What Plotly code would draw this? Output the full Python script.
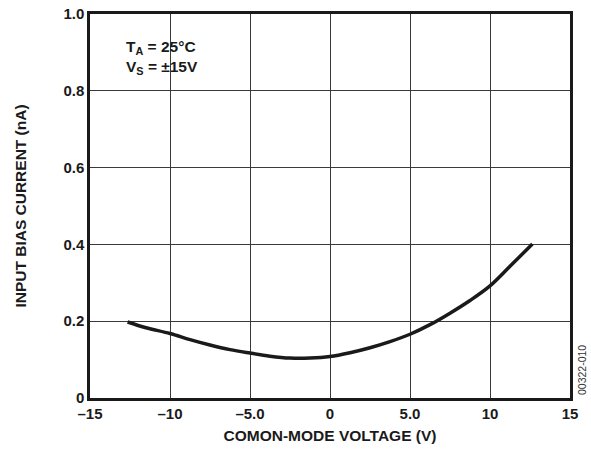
import plotly.graph_objects as go

# Data
cm_voltage = [-12.65, -11.5, -10.0, -8.75, -7.5, -6.25, -5.0, -3.75, -2.5, -1.25, 0.0, 1.25, 2.5, 3.75, 5.0, 6.25, 7.5, 8.75, 10.0, 11.25, 12.65]
bias_current = [0.198, 0.183, 0.168, 0.152, 0.138, 0.126, 0.117, 0.109, 0.104, 0.104, 0.108, 0.118, 0.131, 0.147, 0.166, 0.191, 0.221, 0.254, 0.292, 0.343, 0.401]

x_ticks = [-15, -10, -5, 0, 5, 10, 15]
x_tick_labels = ["–15", "–10", "–5.0", "0", "5.0", "10", "15"]
y_ticks = [0, 0.2, 0.4, 0.6, 0.8, 1.0]
y_tick_labels = ["0", "0.2", "0.4", "0.6", "0.8", "1.0"]

font_family = "Liberation Sans, Arial, sans-serif"

fig = go.Figure()
fig.add_trace(go.Scatter(
    x=cm_voltage, y=bias_current, mode="lines",
    line=dict(color="#1a1a1a", width=3.5, shape="spline", smoothing=1.0),
    showlegend=False, hoverinfo="skip"))

fig.update_layout(
    width=591, height=451,
    margin=dict(l=90, r=21, t=14, b=53),
    paper_bgcolor="white", plot_bgcolor="white",
    font=dict(family=font_family, color="#1a1a1a"),
    xaxis=dict(
        range=[-15, 15], tickvals=x_ticks, ticktext=x_tick_labels,
        showgrid=True, gridcolor="#3a3a3a", gridwidth=1,
        showline=True, linecolor="#1a1a1a", linewidth=2.5, mirror=True,
        zeroline=False, ticks="", automargin=False,
        tickfont=dict(size=15, family=font_family, weight="bold"),
        title=dict(text="<b>COMON-MODE VOLTAGE (V)</b>", font=dict(size=15.5), standoff=10),
    ),
    yaxis=dict(
        range=[0, 1.0], tickvals=y_ticks, ticktext=y_tick_labels,
        showgrid=True, gridcolor="#3a3a3a", gridwidth=1,
        showline=True, linecolor="#1a1a1a", linewidth=2.5, mirror=True,
        zeroline=False, ticks="", automargin=False,
        tickfont=dict(size=15, family=font_family, weight="bold"),
        title=dict(text="<b>INPUT BIAS CURRENT (nA)</b>", font=dict(size=15.5), standoff=33),
    ),
)

fig.add_annotation(
    xref="paper", yref="paper", x=0.072, y=0.955, xanchor="left", yanchor="top",
    xshift=-1, yshift=-5,
    text="<b>T<sub>A</sub> = 25°C<br>V<sub>S</sub> = ±15V</b>",
    showarrow=False, align="left", font=dict(size=15.5, family=font_family))

fig.add_annotation(
    xref="paper", yref="paper", x=1.0, y=0.0, xanchor="left", yanchor="bottom",
    xshift=4, yshift=1, text="00322-010", textangle=-90, showarrow=False,
    font=dict(size=10.5, family=font_family, color="#333333"))

fig.write_html(
    "out.html",
    config={"displayModeBar": False},
    post_script="document.body.style.margin='0';document.body.style.overflow='hidden';",
)
